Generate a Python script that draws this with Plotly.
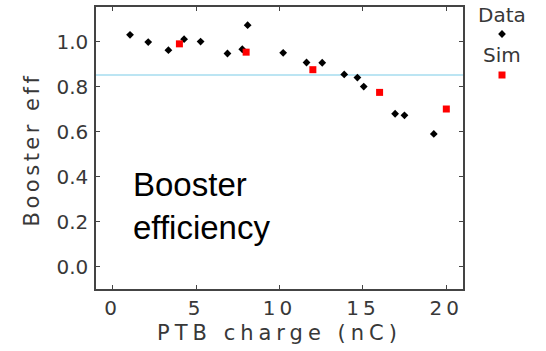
import plotly.graph_objects as go

# Data
data_charge = [1.04, 2.13, 3.34, 4.28, 5.27, 6.88, 7.77, 8.09, 10.22, 11.62, 12.56, 13.88, 14.67, 15.05, 16.93, 17.49, 19.25]
data_eff = [1.031, 0.999, 0.963, 1.012, 1.001, 0.948, 0.967, 1.074, 0.951, 0.908, 0.907, 0.855, 0.841, 0.801, 0.680, 0.673, 0.590]
sim_charge = [4, 8, 12, 16, 20]
sim_eff = [0.991, 0.954, 0.876, 0.775, 0.701]
ref_level = 0.852
x_ticks = [0, 5, 10, 15, 20]
y_ticks = [0.0, 0.2, 0.4, 0.6, 0.8, 1.0]

W, H = 546, 351
ml, mt, mb = 96, 7, 62
plot_right = 463
paper_w = W - ml
paper_h = H - mt - mb
split = (plot_right - ml) / paper_w

tick_font = dict(family="DejaVu Sans", size=20, color="#383838")
title_font = dict(family="DejaVu Sans", size=21, color="#383838")
frame = "#444444"

fig = go.Figure()
fig.add_trace(go.Scatter(x=data_charge, y=data_eff, mode="markers", name="Data",
                         marker=dict(symbol="diamond", size=6, color="black"), showlegend=False))
fig.add_trace(go.Scatter(x=sim_charge, y=sim_eff, mode="markers", name="Sim",
                         marker=dict(symbol="square", size=7, color="#ff0000"), showlegend=False))

# legend-style key in an auxiliary axis (pixel-like coordinates)
fig.add_trace(go.Scatter(x=[39], y=[27], mode="markers", xaxis="x2", yaxis="y2",
                         marker=dict(symbol="diamond", size=6, color="black"),
                         showlegend=False, hoverinfo="skip"))
fig.add_trace(go.Scatter(x=[39], y=[68], mode="markers", xaxis="x2", yaxis="y2",
                         marker=dict(symbol="square", size=7, color="#ff0000"),
                         showlegend=False, hoverinfo="skip"))
fig.add_annotation(x=39, y=8, xref="x2", yref="y2", text="Data", showarrow=False,
                   font=tick_font)
fig.add_annotation(x=39, y=48, xref="x2", yref="y2", text="Sim", showarrow=False,
                   font=tick_font)

# y-axis title placed as a rotated annotation
fig.add_annotation(x=(32 - ml) / paper_w, y=1 - (150 - mt) / paper_h, xref="paper", yref="paper",
                   text="Booster eff", textangle=-90, showarrow=False, font=title_font,
                   xanchor="center", yanchor="middle")

fig.add_shape(type="line", xref="x domain", yref="y", x0=0, x1=1, y0=ref_level, y1=ref_level,
              line=dict(color="#a6dcef", width=1.5), layer="below")

fig.add_annotation(x=1.09, y=0.27, xref="x", yref="y", xanchor="left", yanchor="middle",
                   text="Booster<br>efficiency", showarrow=False, align="left",
                   font=dict(family="Liberation Sans", size=33, color="black"))

fig.update_layout(
    width=W, height=H,
    margin=dict(l=ml, r=0, t=mt, b=mb),
    paper_bgcolor="white", plot_bgcolor="white",
    xaxis=dict(domain=[0, split], range=[-1, 21], tickvals=x_ticks, ticks="inside", ticklen=4,
               tickcolor=frame, showline=True, linecolor=frame, linewidth=1.5, mirror="ticks",
               showgrid=False, zeroline=False, tickfont=tick_font,
               title=dict(text="PTB charge (nC)", font=title_font, standoff=7)),
    yaxis=dict(range=[-0.1, 1.155], tickvals=y_ticks, tickformat=".1f", ticks="inside", ticklen=4,
               tickcolor=frame, showline=True, linecolor=frame, linewidth=1.5, mirror="ticks",
               showgrid=False, zeroline=False, tickfont=tick_font, ticklabelstandoff=2),
    xaxis2=dict(domain=[split, 1], range=[0, W - plot_right], visible=False, fixedrange=True),
    yaxis2=dict(domain=[0, 1], range=[paper_h, 0], visible=False, anchor="x2", fixedrange=True),
)

post = """
var gd = document.getElementById('{plot_id}');
function spaceText(){
  gd.querySelectorAll('.xtick text').forEach(function(e){ e.style.letterSpacing = '4px'; });
  gd.querySelectorAll('.g-xtitle text').forEach(function(e){ e.style.letterSpacing = '5px'; });
  gd.querySelectorAll('.annotation-text').forEach(function(e){
    if (e.textContent === 'Booster eff') e.style.letterSpacing = '3.5px';
  });
}
spaceText();
gd.on && gd.on('plotly_afterplot', spaceText);
"""

fig.write_html("out.html", post_script=post, config={"responsive": False})
